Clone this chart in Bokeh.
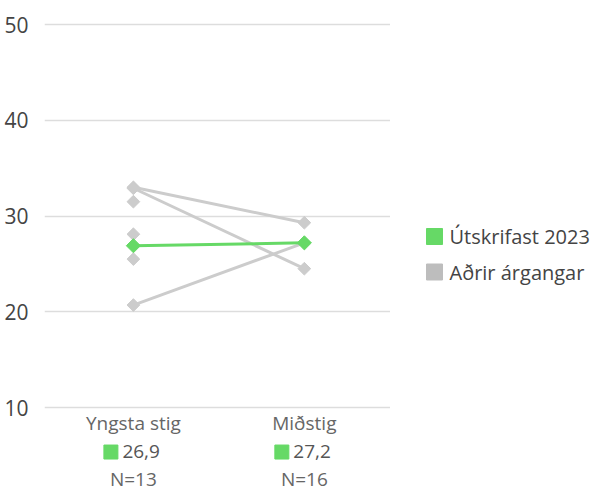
from bokeh.plotting import figure
from bokeh.layouts import row
from bokeh.models import Range1d, FixedTicker, ColumnDataSource
from bokeh.transform import dodge
from bokeh.core.properties import value
from bokeh.embed import file_html
from bokeh.resources import INLINE

# ---- data ----
categories = ["Yngsta stig", "Miðstig"]
cat_x = [1, 2]
green_values = [26.9, 27.2]
green_labels = ["26,9", "27,2"]
n_labels = ["N=13", "N=16"]
other_lines = [[33.0, 29.3], [32.9, 24.5], [20.7, 27.2]]
other_single = [31.5, 28.1, 25.5]  # only at "Yngsta stig"
y_ticks = [10, 20, 30, 40, 50]
legend_labels = ["Útskrifast 2023", "Aðrir árgangar"]

GREEN = "#66d966"
GRAY = "#cccccc"
LEGEND_COLORS = [GREEN, "#bdbdbd"]
FONT = "Open Sans"
PX_PER_UNIT = 9.575

p = figure(width=390, height=489, output_backend="svg", toolbar_location=None,
           x_range=Range1d(0.48, 2.504), y_range=Range1d(1.44, 52.51),
           x_axis_location=None, min_border_left=44, min_border_right=0,
           min_border_top=0, min_border_bottom=0)
p.outline_line_color = None
p.background_fill_color = "white"
p.xgrid.visible = False
p.ygrid.grid_line_color = "#dddddd"
p.ygrid.grid_line_width = 1.5

ax = p.yaxis[0]
ax.ticker = FixedTicker(ticks=y_ticks)
ax.axis_line_color = None
ax.major_tick_line_color = None
ax.minor_tick_line_color = None
ax.major_label_standoff = 10
ax.major_label_text_font = FONT
ax.major_label_text_font_size = "21px"
ax.major_label_text_color = "#444444"

# other cohorts
xs = [cat_x for _ in other_lines]
p.multi_line(xs=xs, ys=other_lines, line_color=GRAY, line_width=3)
px = [x for _ in other_lines for x in cat_x] + [cat_x[0]] * len(other_single)
py = [v for l in other_lines for v in l] + other_single
p.scatter(px, py, marker="square", angle=0.785398, size=9, color=GRAY)

# graduating cohort
p.line(cat_x, green_values, line_color=GREEN, line_width=3)
p.scatter(cat_x, green_values, marker="square", angle=0.785398, size=10, color=GREEN)

# labels under the chart
base = [y_ticks[0]] * len(cat_x)
src = ColumnDataSource(dict(x=cat_x, y=base, cat=categories, val=green_labels, n=n_labels))
common = dict(source=src, text_baseline="middle", text_font=value(FONT),
              text_font_size="19px")
p.text(x="x", y="y", text="cat", y_offset=15, text_align="center",
       text_color="#666666", **common)
p.text(x="x", y="y", text="val", x_offset=-11, y_offset=44, text_align="left",
       text_color="#555555", **common)
p.text(x="x", y="y", text="n", y_offset=71, text_align="center",
       text_color="#666666", **common)
# square marks left of the values (pixel offsets converted to data units)
sq_y = [y_ticks[0] - 44.5 / PX_PER_UNIT] * len(cat_x)
src2 = ColumnDataSource(dict(x=cat_x, y=sq_y))
p.scatter(x=dodge("x", -22.5 / 171.0), y="y", source=src2, marker="square",
          size=14, color=GREEN)

# legend drawn in a blank panel to the right (panel ranges are in pixels, y downward)
p2 = figure(width=205, height=489, output_backend="svg", toolbar_location=None,
            x_range=Range1d(0, 205), y_range=Range1d(489, 0),
            x_axis_location=None, y_axis_location=None,
            min_border_left=0, min_border_right=0, min_border_top=0, min_border_bottom=0)
p2.outline_line_color = None
p2.grid.visible = False
row_y = [236 + 35.5 * i for i in range(len(legend_labels))]
lsrc = ColumnDataSource(dict(x=[44] * len(legend_labels), tx=[59] * len(legend_labels),
                             y=row_y, label=legend_labels, color=LEGEND_COLORS))
p2.scatter(x="x", y="y", source=lsrc, marker="square", size=16, color="color")
p2.text(x="tx", y="y", text="label", source=lsrc, text_baseline="middle",
        text_align="left", text_font=value(FONT), text_font_size="20px",
        text_color="#444444")

open("out.html", "w").write(file_html(row(p, p2), INLINE))
